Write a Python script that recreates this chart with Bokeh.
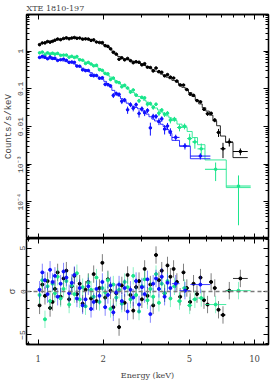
import numpy as np
from bokeh.plotting import figure
from bokeh.layouts import column
from bokeh.models import FixedTicker, LogAxis, LinearAxis, Range1d, Span, CustomJSTickFormatter
from bokeh.embed import file_html
from bokeh.resources import INLINE

# ---------------- data ----------------
shared_edges = [1.00, 1.03, 1.06, 1.09, 1.12, 1.15, 1.18, 1.21, 1.25, 1.29, 1.33, 1.37, 1.41, 1.45,
                1.49, 1.53, 1.58, 1.63, 1.68, 1.73, 1.78, 1.83, 1.89, 1.95, 2.01, 2.07, 2.13, 2.19,
                2.26, 2.33, 2.40, 2.47, 2.55, 2.63, 2.71, 2.79, 2.88, 2.97, 3.06, 3.15, 3.25, 3.35,
                3.45, 3.56, 3.67, 3.78, 3.90, 4.02, 4.15]

black_tail_edges = [4.15, 4.30, 4.45, 4.61, 4.78, 4.95, 5.13, 5.32, 5.52, 5.73, 5.95, 6.18, 6.42,
                    6.68, 6.95, 7.35, 7.95, 9.30]
green_tail_edges = [4.15, 4.38, 4.62, 4.88, 5.15, 5.45, 5.90, 7.40, 9.60]
blue_tail_edges = [4.15, 4.50, 5.05, 6.25]

black_model = [1.55, 1.62, 1.68, 1.75, 1.82, 1.88, 1.94, 2.00, 2.05, 2.10, 2.14, 2.18, 2.20, 2.21,
               2.21, 2.19, 2.16, 2.11, 2.04, 1.97, 1.90, 1.80, 1.68, 1.55, 1.43, 1.29, 1.15, 0.99,
               0.84, 0.72, 0.65, 0.62, 0.596, 0.569, 0.543, 0.513, 0.484, 0.452, 0.417, 0.385,
               0.355, 0.324, 0.295, 0.269, 0.245, 0.224, 0.204, 0.186,
               0.168, 0.151, 0.132, 0.110, 0.0933, 0.0794, 0.0631, 0.0501, 0.0398, 0.0316,
               0.0257, 0.0200, 0.0141, 0.0105, 0.0056, 0.0038, 0.0015]
black_err = [0.026, 0.025, 0.025, 0.024, 0.024, 0.024, 0.024, 0.023, 0.023, 0.023, 0.023, 0.023,
             0.023, 0.023, 0.023, 0.023, 0.024, 0.024, 0.024, 0.025, 0.025, 0.026, 0.026, 0.027,
             0.028, 0.029, 0.031, 0.033, 0.035, 0.037, 0.038, 0.039, 0.040, 0.040, 0.041, 0.042,
             0.043, 0.044, 0.045, 0.046, 0.047, 0.048, 0.050, 0.051, 0.053, 0.055, 0.057, 0.059,
             0.060, 0.062, 0.065, 0.068, 0.070, 0.073, 0.077, 0.080, 0.085, 0.090, 0.10, 0.11,
             0.13, 0.16, 0.20, 0.25, 0.30]
black_resid = [-1.6, 0.8, -0.5, 1.2, -1.9, -1.2, 0.3, 2.2, -0.6, 1.5, 2.4, -0.9, 0.6, 1.8, -0.3, 0.9,
               -1.4, 0.2, 1.1, -0.8, 2.0, -1.1, 0.4, 3.3, -0.7, 1.4, 0.1, -1.8, -0.2, -4.1, 0.7, -1.3,
               1.9, -0.4, -2.2, 0.5, 1.2, -0.9, 2.6, -0.5, 0.8, -1.6, 4.2, 1.3, 2.4, -0.2, 3.0, 1.7,
               2.6, 1.1, -0.6, 2.2, 0.4, -1.2, 0.9, -0.3, 1.6, -1.0, -1.5, 1.1, 0.4, -2.1, -2.7,
               0.1, 1.5]

green_model = [0.916, 0.906, 0.895, 0.883, 0.871, 0.857, 0.841, 0.822, 0.80, 0.776, 0.755, 0.733,
               0.711, 0.689, 0.661, 0.617, 0.562, 0.513, 0.479, 0.452, 0.422, 0.389, 0.347, 0.302,
               0.258, 0.230, 0.206, 0.183, 0.162, 0.144, 0.129, 0.114, 0.101, 0.0896, 0.0798,
               0.0710, 0.0628, 0.0560, 0.0499, 0.0444, 0.0393, 0.0348, 0.0310, 0.0275, 0.0244,
               0.0217, 0.0192, 0.0170,
               0.0144, 0.0116, 0.0095, 0.0074, 0.0051, 0.0033, 0.0013, 0.00024]
green_err = [0.035, 0.035, 0.035, 0.035, 0.036, 0.036, 0.037, 0.037, 0.038, 0.038, 0.039, 0.040,
             0.041, 0.042, 0.043, 0.045, 0.047, 0.049, 0.051, 0.053, 0.055, 0.057, 0.060, 0.063,
             0.066, 0.068, 0.071, 0.074, 0.077, 0.080, 0.083, 0.086, 0.089, 0.092, 0.095, 0.098,
             0.10, 0.105, 0.11, 0.115, 0.12, 0.125, 0.13, 0.135, 0.14, 0.145, 0.15, 0.16,
             0.16, 0.17, 0.19, 0.22, 0.26, 0.30, 0.29, 1.0]
green_resid = [-0.4, 1.3, -3.2, 0.6, -1.1, 0.9, -0.2, 1.7, -0.8, 0.3, 1.2, -1.5, 0.7, -0.3, 2.1, -0.9,
               0.5, -1.7, 1.0, 0.2, -0.6, 1.6, -1.2, 0.4, -0.1, 1.3, -2.0, 0.8, -0.7, 0.2, -1.4, 1.1,
               0.5, -0.9, 1.8, -0.4, -2.3, 0.6, 1.4, -1.0, 0.3, -0.6, 2.0, -1.3, 0.9, -0.2, 1.2, -0.8,
               0.6, -1.1, 0.4, -1.6, -0.9, -0.75, -1.5, 0.1]

blue_model = [0.676, 0.664, 0.652, 0.638, 0.625, 0.612, 0.600, 0.586, 0.569, 0.550, 0.528, 0.509,
              0.490, 0.457, 0.422, 0.389, 0.355, 0.324, 0.295, 0.269, 0.245, 0.221, 0.200, 0.180,
              0.158, 0.135, 0.112, 0.0912, 0.0759, 0.0646, 0.055, 0.0479, 0.0417, 0.0372, 0.0343,
              0.032, 0.0295, 0.0272, 0.0245, 0.0214, 0.0182, 0.0158, 0.0141, 0.0129, 0.0115,
              0.0100, 0.0083, 0.0066,
              0.0043, 0.0030, 0.0014]
blue_err = [0.045, 0.045, 0.046, 0.046, 0.047, 0.047, 0.048, 0.049, 0.050, 0.051, 0.052, 0.053,
            0.054, 0.056, 0.058, 0.060, 0.063, 0.066, 0.069, 0.072, 0.075, 0.079, 0.083, 0.087,
            0.092, 0.097, 0.10, 0.11, 0.12, 0.13, 0.135, 0.14, 0.145, 0.15, 0.155, 0.16,
            0.165, 0.17, 0.175, 0.18, 0.19, 0.20, 0.21, 0.22, 0.23, 0.24, 0.25, 0.26,
            0.22, 0.20, 0.22]
blue_resid = [0.2, 2.2, 1.3, -0.3, 2.5, 1.1, 1.8, -0.6, 0.9, 2.3, 1.6, -0.2, 1.0, 1.9, -0.8, 0.4,
              -1.6, -0.9, 0.6, -2.0, -1.2, 0.3, -0.5, 1.1, -1.8, -0.4, 0.7, -2.4, -0.1, 0.8, -1.1, 0.4,
              -2.3, 0.2, -0.7, 1.2, -1.5, 0.5, -0.3, 1.4, -2.6, 0.9, 1.5, 0.3, 1.7, -0.6, 1.0, 0.4,
              0.9, 0.1, 0.8]

x_major = [1, 2, 5, 10]
x_minor = [0.9, 3, 4, 6, 7, 8, 9, 11]
y_major = [1e-5, 1e-4, 1e-3, 1e-2, 0.1, 1, 10]
y_labels = {"1": "1", "0.1": "0.1", "0.01": "0.01", "0.001": "10\u207b\u00b3", "0.0001": "10\u207b\u2074"}
r_major = [-5, 0, 5]
r_minor = [-6, -4, -3, -2, -1, 1, 2, 3, 4, 6]

title_text = "XTE 1810-197"
ylabel_top = "Counts/s/keV"
ylabel_bot = "\u03c3"
xlabel = "Energy (keV)"

BLACK = "#000000"
GREEN = "#19e68c"
BLUE = "#1010ff"
FONT = "DejaVu Serif"
MONO = "Liberation Mono"

spectra = [
    (black_tail_edges, black_model, black_err, black_resid, BLACK),
    (green_tail_edges, green_model, green_err, green_resid, GREEN),
    (blue_tail_edges, blue_model, blue_err, blue_resid, BLUE),
]

W = 273
LEFT = 21
RIGHT = 5
TOP_H = 238
BOT_H = 144

y_minor = []
for d in range(-5, 1):
    for k in range(2, 10):
        y_minor.append(k * 10.0 ** d)

p1 = figure(width=W, height=TOP_H, x_axis_type="log", y_axis_type="log",
            x_range=Range1d(0.883, 11.6), y_range=Range1d(1.07e-5, 9.4),
            output_backend="svg", toolbar_location=None,
            min_border_left=LEFT, min_border_right=RIGHT, min_border_top=14, min_border_bottom=0)
p2 = figure(width=W, height=BOT_H, x_axis_type="log", x_range=p1.x_range,
            y_range=Range1d(-6.1, 6.1),
            output_backend="svg", toolbar_location=None,
            min_border_left=LEFT, min_border_right=RIGHT, min_border_top=0, min_border_bottom=34)

for p in (p1, p2):
    p.xgrid.visible = False
    p.ygrid.visible = False
    p.outline_line_color = "black"
    p.outline_line_width = 1.3
    p.background_fill_color = "white"
    p.border_fill_color = "white"

blank = CustomJSTickFormatter(code="return '';")


def style_axis(ax, labels=True):
    ax.major_tick_in = 5
    ax.major_tick_out = 0
    ax.minor_tick_in = 3
    ax.minor_tick_out = 0
    ax.axis_line_width = 1.3
    ax.major_tick_line_width = 1
    ax.minor_tick_line_width = 1
    ax.major_label_text_font = FONT
    ax.axis_label_text_font = FONT
    ax.axis_label_text_font_style = "normal"
    ax.major_label_standoff = 1
    ax.axis_label_standoff = 1
    if not labels:
        ax.formatter = blank
        ax.major_label_standoff = 0
        ax.axis_label = None


def style_left(ax, label):
    ax.axis_label = label
    ax.major_label_orientation = "vertical"
    ax.major_label_text_font = MONO
    ax.major_label_text_font_size = "8px"
    ax.major_label_standoff = 1
    ax.axis_label_text_font = MONO
    ax.axis_label_text_font_size = "9px"
    ax.axis_label_standoff = 0


yfmt = CustomJSTickFormatter(args=dict(m=y_labels), code="""
const k = String(tick);
const v = (m instanceof Map) ? m.get(k) : m[k];
return (v === undefined) ? "" : v;
""")

# top panel axes
p1.xaxis.ticker = FixedTicker(ticks=x_major, minor_ticks=x_minor)
style_axis(p1.xaxis[0], labels=False)
p1.yaxis.ticker = FixedTicker(ticks=y_major, minor_ticks=y_minor)
style_axis(p1.yaxis[0])
p1.yaxis.formatter = yfmt
style_left(p1.yaxis[0], ylabel_top)
ax_top = LogAxis(ticker=FixedTicker(ticks=x_major, minor_ticks=x_minor))
style_axis(ax_top, labels=False)
p1.add_layout(ax_top, "above")
ax_right = LogAxis(ticker=FixedTicker(ticks=y_major, minor_ticks=y_minor))
style_axis(ax_right, labels=False)
p1.add_layout(ax_right, "right")

p1.title.text = title_text
p1.title.text_font = FONT
p1.title.text_font_size = "8px"
p1.title.text_font_style = "normal"
p1.title.align = "left"
p1.title.standoff = 3

# bottom panel axes
p2.xaxis.ticker = FixedTicker(ticks=x_major, minor_ticks=x_minor)
style_axis(p2.xaxis[0])
p2.xaxis.axis_label = xlabel
p2.xaxis.major_label_text_font_size = "8.5px"
p2.xaxis.axis_label_text_font_size = "8px"
p2.xaxis.major_label_standoff = 10
p2.xaxis.axis_label_standoff = 6
p2.yaxis.ticker = FixedTicker(ticks=r_major, minor_ticks=r_minor)
style_axis(p2.yaxis[0])
style_left(p2.yaxis[0], ylabel_bot)
ax_top2 = LogAxis(ticker=FixedTicker(ticks=x_major, minor_ticks=x_minor))
style_axis(ax_top2, labels=False)
p2.add_layout(ax_top2, "above")
ax_right2 = LinearAxis(ticker=FixedTicker(ticks=r_major, minor_ticks=r_minor))
style_axis(ax_right2, labels=False)
p2.add_layout(ax_right2, "right")

p2.add_layout(Span(location=0, dimension="width", line_color="#7a7a7a",
                   line_dash="4 3", line_width=1.5))

for tail_edges, model, err, resid, col in spectra:
    edges = np.array(shared_edges + tail_edges[1:])
    lo = edges[:-1]
    hi = edges[1:]
    ctr = np.sqrt(lo * hi)
    m = np.array(model)
    e = np.array(err) * m
    r = np.array(resid)
    d = m + r * e
    p1.step(x=list(edges), y=list(m) + [m[-1]], mode="after", line_color=col, line_width=1,
            line_alpha=0.85)
    p1.segment(x0=ctr, y0=d - e, x1=ctr, y1=d + e, line_color=col, line_width=1)
    p1.segment(x0=lo, y0=d, x1=hi, y1=d, line_color=col, line_width=1)
    p1.scatter(x=ctr, y=d, size=2.6, color=col)
    p2.segment(x0=ctr, y0=r - 1, x1=ctr, y1=r + 1, line_color=col, line_width=1, line_alpha=0.5)
    p2.segment(x0=lo, y0=r, x1=hi, y1=r, line_color=col, line_width=1, line_alpha=0.8)
    p2.scatter(x=ctr, y=r, size=3, color=col)

layout = column(p1, p2, spacing=0)

open("out.html", "w").write(file_html(layout, INLINE))
